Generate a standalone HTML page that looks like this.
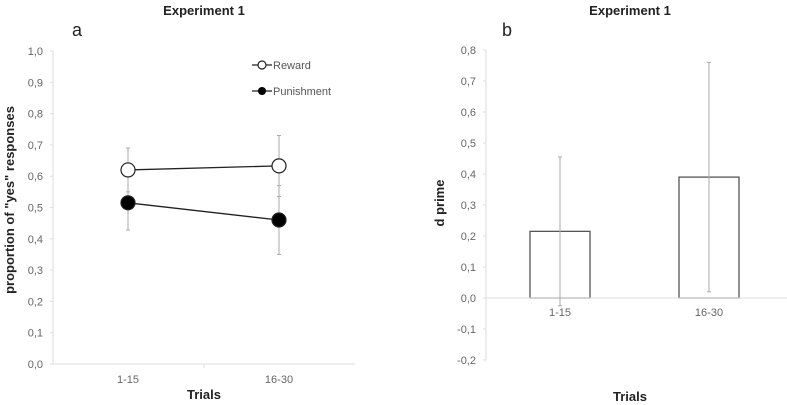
<!DOCTYPE html>
<html><head><meta charset="utf-8"><style>
body{margin:0;background:#fff;}
svg{display:block;font-family:"Liberation Sans",Arial,sans-serif;}
</style></head><body>
<svg id="c" width="787" height="405">
<text x="204" y="15" text-anchor="middle" font-size="13" font-weight="bold" fill="#222">Experiment 1</text>
<text x="630" y="15" text-anchor="middle" font-size="13" font-weight="bold" fill="#222">Experiment 1</text>
<text x="72" y="36" font-size="18" fill="#222">a</text>
<text x="502" y="36" font-size="18" fill="#222">b</text>
<text transform="translate(14,200) rotate(-90)" text-anchor="middle" font-size="13" font-weight="bold" fill="#222">proportion of "yes" responses</text>
<text transform="translate(444,203) rotate(-90)" text-anchor="middle" font-size="13" font-weight="bold" fill="#222">d prime</text>
<text x="204" y="399" text-anchor="middle" font-size="13" font-weight="bold" fill="#222">Trials</text>
<text x="630" y="401" text-anchor="middle" font-size="13" font-weight="bold" fill="#222">Trials</text>
<g>
<line x1="252" y1="65" x2="272" y2="65" stroke="#222" stroke-width="1.3"/>
<circle cx="262" cy="65" r="4" fill="#fff" stroke="#222" stroke-width="1.2"/>
<text x="273" y="69" font-size="11" fill="#555">Reward</text>
<line x1="252" y1="91" x2="272" y2="91" stroke="#222" stroke-width="1.3"/>
<circle cx="262" cy="91" r="4" fill="#000"/>
<text x="273" y="95" font-size="11" fill="#555">Punishment</text>
</g>
<g id="L"></g><g id="R"></g>
</svg>
<script>
const cats=["1-15","16-30"];
const rewardVals=[0.62,0.633];
const rewardErrHi=[0.69,0.73];
const rewardErrLo=[0.55,0.535];
const punishVals=[0.515,0.46];
const punishErrHi=[0.6,0.57];
const punishErrLo=[0.428,0.35];
const leftTicks=["0,0","0,1","0,2","0,3","0,4","0,5","0,6","0,7","0,8","0,9","1,0"];
const dprimeVals=[0.215,0.39];
const dprimeErrHi=[0.455,0.76];
const dprimeErrLo=[-0.025,0.02];
const rightTicks=["-0,2","-0,1","0,0","0,1","0,2","0,3","0,4","0,5","0,6","0,7","0,8"];
const NS="http://www.w3.org/2000/svg";
function mk(p,t,a){const e=document.createElementNS(NS,t);for(const k in a)e.setAttribute(k,a[k]);p.appendChild(e);return e;}
// Left
const L=document.getElementById('L');
const ly=v=>364-v*313, lx=i=>128+i*151;
let e=mk(L,'line',{x1:53,y1:51,x2:53,y2:364,stroke:'#ddd'});

e=mk(L,'line',{x1:53,y1:364,x2:355,y2:364,stroke:'#ddd'});

leftTicks.forEach((t,i)=>{const v=i/10;
 mk(L,'line',{x1:50,y1:ly(v),x2:53,y2:ly(v),stroke:'#ddd'});
 const tx=mk(L,'text',{x:43,y:ly(v)+4,'text-anchor':'end','font-size':11,fill:'#666'});tx.textContent=t;
 });
mk(L,'line',{x1:204,y1:364,x2:204,y2:368,stroke:'#ddd'});
cats.forEach((c,i)=>{const tx=mk(L,'text',{x:lx(i),y:383,'text-anchor':'middle','font-size':11,fill:'#666'});tx.textContent=c;
 });
function errs(p,hi,lo,name){hi.forEach((h,i)=>{const g=mk(p,'g',{stroke:'#aaa','stroke-width':1});
 
 mk(g,'line',{x1:lx(i),y1:ly(h),x2:lx(i),y2:ly(lo[i])});
 mk(g,'line',{x1:lx(i)-2,y1:ly(h),x2:lx(i)+2,y2:ly(h)});
 mk(g,'line',{x1:lx(i)-2,y1:ly(lo[i]),x2:lx(i)+2,y2:ly(lo[i])});});}
errs(L,rewardErrHi,rewardErrLo,'reward-error-bar');
errs(L,punishErrHi,punishErrLo,'punishment-error-bar');
function series(vals,fill,name){
 e=mk(L,'polyline',{points:vals.map((v,i)=>lx(i)+','+ly(v)).join(' '),fill:'none',stroke:'#222','stroke-width':1.3});
 
 vals.forEach((v,i)=>{const c=mk(L,'circle',{cx:lx(i),cy:ly(v),r:7,fill:fill,stroke:'#222','stroke-width':1.2});
 });}
series(rewardVals,'#fff','reward');
series(punishVals,'#000','punishment');
// Right
const R=document.getElementById('R');
const ry=v=>298-v*310, rx=i=>560+i*149;
e=mk(R,'line',{x1:486,y1:50,x2:486,y2:360,stroke:'#ddd'});

rightTicks.forEach((t,i)=>{const v=(i-2)/10;
 mk(R,'line',{x1:483,y1:ry(v),x2:486,y2:ry(v),stroke:'#ddd'});
 const tx=mk(R,'text',{x:476,y:ry(v)+4,'text-anchor':'end','font-size':11,fill:'#666'});tx.textContent=t;
 });
dprimeVals.forEach((v,i)=>{const b=mk(R,'rect',{x:rx(i)-30,y:ry(v),width:60,height:ry(0)-ry(v),fill:'#fff',stroke:'#555','stroke-width':1.3});
 });
e=mk(R,'line',{x1:486,y1:298,x2:787,y2:298,stroke:'#ddd'});

dprimeErrHi.forEach((h,i)=>{const g=mk(R,'g',{stroke:'#aaa','stroke-width':1});
 
 mk(g,'line',{x1:rx(i),y1:ry(h),x2:rx(i),y2:ry(dprimeErrLo[i])});
 mk(g,'line',{x1:rx(i)-2,y1:ry(h),x2:rx(i)+2,y2:ry(h)});
 mk(g,'line',{x1:rx(i)-2,y1:ry(dprimeErrLo[i]),x2:rx(i)+2,y2:ry(dprimeErrLo[i])});});
cats.forEach((c,i)=>{const tx=mk(R,'text',{x:rx(i),y:316,'text-anchor':'middle','font-size':11,fill:'#666'});tx.textContent=c;
 });
</script>
</body></html>
